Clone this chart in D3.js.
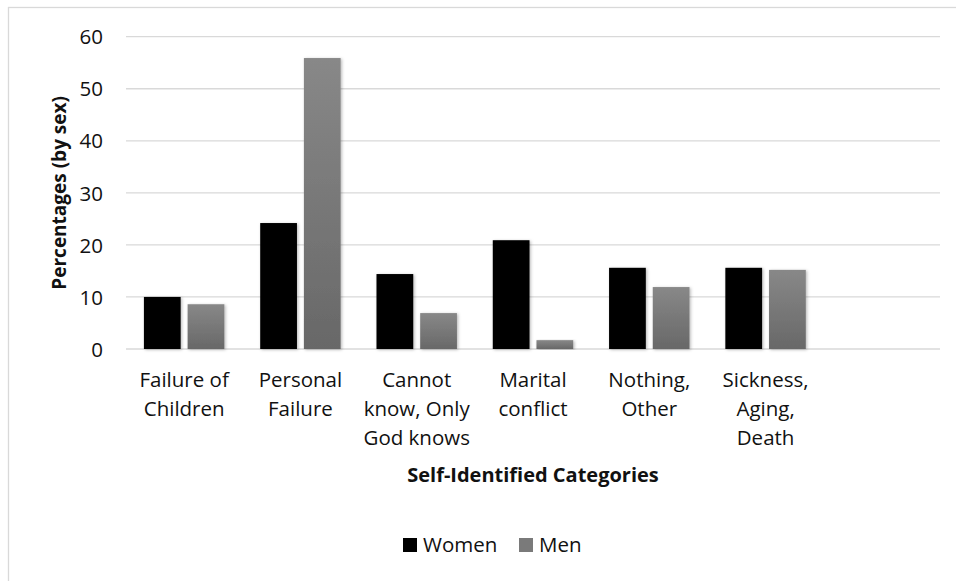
<!DOCTYPE html>
<html>
<head>
<meta charset="utf-8">
<script src="https://cdn.jsdelivr.net/npm/d3@7"></script>
<style>
  html, body { margin: 0; padding: 0; background: #fff; }
  svg { display: block; font-family: "Open Sans", Lato, sans-serif; }
</style>
</head>
<body>
<svg id="chart" width="956" height="581"></svg>
<script>
// Reasons given, by self-identified category
const categories = [
  "Failure of Children",
  "Personal Failure",
  "Cannot know, Only God knows",
  "Marital conflict",
  "Nothing, Other",
  "Sickness, Aging, Death"
];
const series = ["Women", "Men"];
const women = [10.0, 24.2, 14.4, 20.9, 15.6, 15.6];
const men = [8.6, 55.9, 6.9, 1.7, 11.9, 15.2];
const yTicks = [0, 10, 20, 30, 40, 50, 60];

const seriesValues = { Women: women, Men: men };
const rows = categories.map((c, i) => ({
  category: c,
  values: series.map(s => ({ key: s, value: seriesValues[s][i] }))
}));

const svg = d3.select("#chart");
const W = 956, H = 581;
const plot = { left: 126, right: 940, top: 36.7, bottom: 349 };
const labelFont = 20.5;

// chart area outline
svg.append("rect")
  .attr("x", 8.5).attr("y", 7.5)
  .attr("width", W + 20).attr("height", H + 20)
  .attr("fill", "#fff")
  .attr("stroke", "#d9d9d9").attr("stroke-width", 1.3);

const defs = svg.append("defs");
const grad = defs.append("linearGradient")
  .attr("id", "menFill").attr("x1", 0).attr("y1", 0).attr("x2", 0).attr("y2", 1);
grad.append("stop").attr("offset", "0%").attr("stop-color", "#888888");
grad.append("stop").attr("offset", "100%").attr("stop-color", "#686868");

const shadow = defs.append("filter").attr("id", "barShadow")
  .attr("x", "-30%").attr("y", "-10%").attr("width", "160%").attr("height", "120%");
shadow.append("feDropShadow")
  .attr("dx", 1.2).attr("dy", 0.8).attr("stdDeviation", 1.6)
  .attr("flood-color", "#000").attr("flood-opacity", 0.28);

// an empty trailing slot keeps the category axis wide
const x = d3.scaleBand()
  .domain(categories.concat([""]))
  .range([plot.left, plot.right])
  .paddingInner(0).paddingOuter(0);

const x1 = d3.scaleBand()
  .domain(series)
  .range([0, x.bandwidth()])
  .paddingInner(0.159)
  .paddingOuter(0.41);

const y = d3.scaleLinear().domain([0, 60]).range([plot.bottom, plot.top]);

const color = { Women: "#000000", Men: "url(#menFill)" };

// gridlines
svg.append("g")
  .selectAll("line")
  .data(yTicks)
  .join("line")
  .attr("x1", plot.left).attr("x2", plot.right)
  .attr("y1", d => y(d)).attr("y2", d => y(d))
  .attr("stroke", "#d9d9d9").attr("stroke-width", 1.3);

// y axis labels
const yAxis = d3.axisLeft(y).tickValues(yTicks).tickSize(0).tickPadding(0);
const gy = svg.append("g")
  .attr("transform", `translate(103,0)`)
  .call(yAxis);
gy.select(".domain").remove();
gy.selectAll("text")
  .attr("font-size", labelFont).attr("font-family", "'Open Sans', sans-serif")
  .attr("fill", "#111").attr("dy", "0.35em");

// bars
const groups = svg.append("g")
  .selectAll("g")
  .data(rows)
  .join("g")
  .attr("transform", d => `translate(${x(d.category)},0)`);

groups.selectAll("rect")
  .data(d => d.values)
  .join("rect")
  .attr("x", d => x1(d.key))
  .attr("width", x1.bandwidth())
  .attr("y", d => y(d.value))
  .attr("height", d => y(0) - y(d.value))
  .attr("fill", d => color[d.key])
  .attr("filter", "url(#barShadow)");

// category labels, wrapped to the band width
const xAxis = d3.axisBottom(x).tickValues(categories).tickSize(0).tickPadding(0);
const gx = svg.append("g")
  .attr("transform", `translate(0,${plot.bottom})`)
  .call(xAxis);
gx.select(".domain").remove();
gx.selectAll("text")
  .attr("font-size", labelFont).attr("font-family", "'Open Sans', sans-serif")
  .attr("fill", "#111")
  .attr("y", 0).attr("dy", null)
  .each(function(d) {
    const t = d3.select(this);
    const words = d.split(" ");
    const maxW = x.bandwidth() * 0.97;
    const lines = [];
    let line = [];
    t.text(null);
    const probe = t.append("tspan");
    words.forEach(w => {
      const trial = line.concat([w]).join(" ");
      probe.text(trial);
      if (probe.node().getComputedTextLength() > maxW && line.length) {
        lines.push(line.join(" "));
        line = [w];
      } else {
        line.push(w);
      }
    });
    lines.push(line.join(" "));
    probe.remove();
    lines.forEach((l, i) => {
      t.append("tspan").attr("x", 0).attr("y", 38.3 + i * 29).text(l);
    });
  });

// axis titles
svg.append("text")
  .attr("transform", `translate(66,${(plot.top + plot.bottom) / 2}) rotate(-90)`)
  .attr("text-anchor", "middle")
  .attr("font-size", 19).attr("font-weight", "bold")
  .attr("fill", "#111")
  .text("Percentages (by sex)");

svg.append("text")
  .attr("x", (plot.left + plot.right) / 2).attr("y", 482)
  .attr("text-anchor", "middle")
  .attr("font-size", 20).attr("font-weight", "bold")
  .attr("fill", "#111")
  .text("Self-Identified Categories");

// legend
const legendX = { Women: 403, Men: 519 };
const legend = svg.append("g")
  .selectAll("g")
  .data(series)
  .join("g")
  .attr("transform", d => `translate(${legendX[d]},538)`);
legend.append("rect")
  .attr("width", 14).attr("height", 14)
  .attr("fill", d => d === "Men" ? "#7a7a7a" : "#000");
legend.append("text")
  .attr("x", 20).attr("y", 14)
  .attr("font-size", labelFont).attr("fill", "#111")
  .text(d => d);
</script>
</body>
</html>
